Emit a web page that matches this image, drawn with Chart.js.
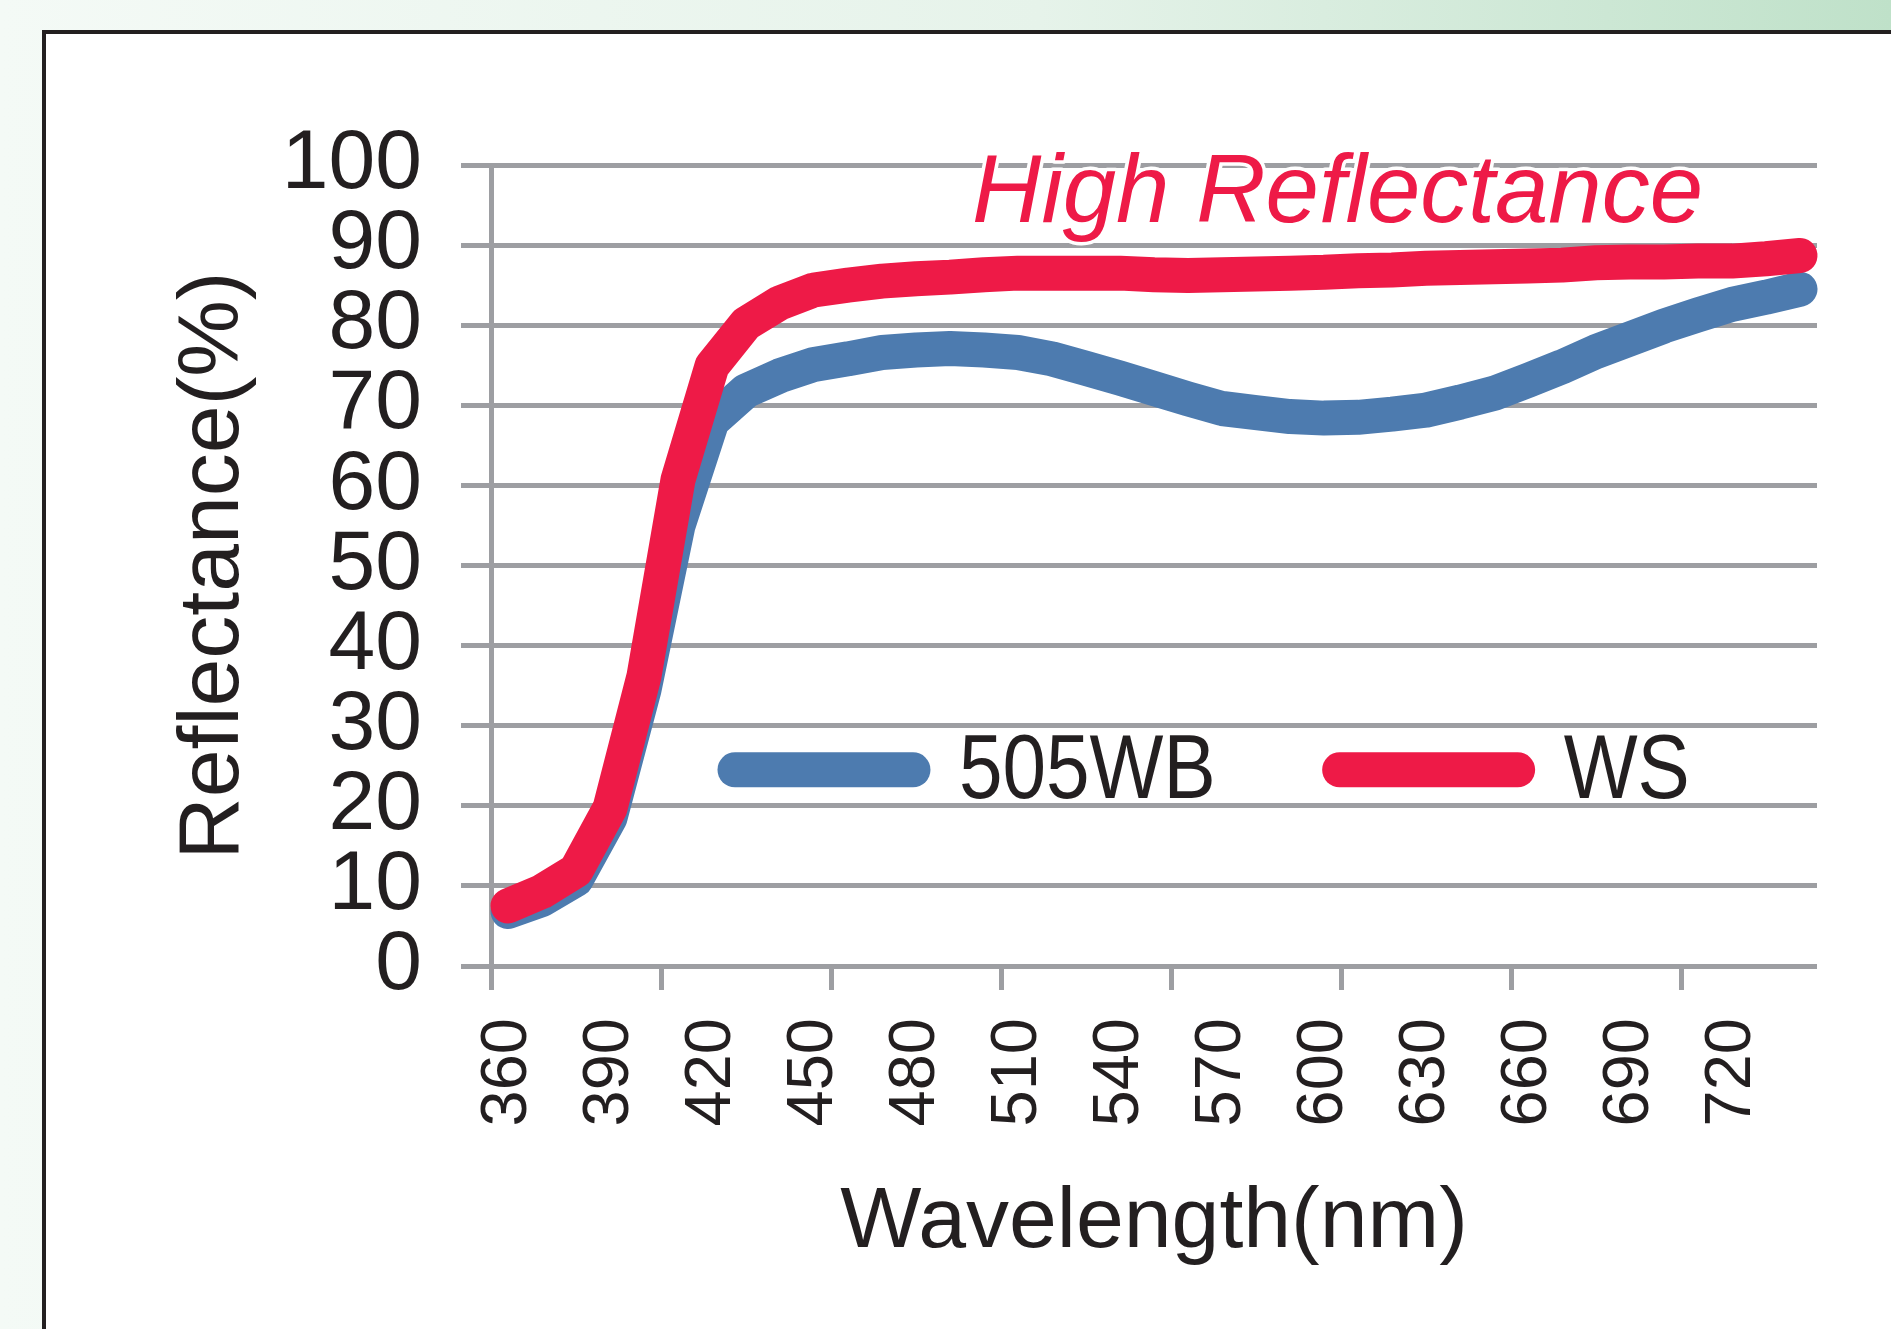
<!DOCTYPE html>
<html>
<head>
<meta charset="utf-8">
<script src="https://cdn.jsdelivr.net/npm/chart.js@4.4.1/dist/chart.umd.min.js"></script>
<style>
  html, body { margin: 0; padding: 0; }
  body {
    width: 1891px; height: 1329px; overflow: hidden; position: relative;
    background: linear-gradient(to right, #f4faf6 0%, #e6f3ea 55%, #bfe1c9 100%);
  }
  #quadro {
    position: absolute; left: 42px; top: 30px; width: 1900px; height: 1400px;
    border: 4px solid #231f20; background: #ffffff;
  }
  #grafico { position: absolute; left: 0; top: 0; }
</style>
</head>
<body>
<div id="quadro"></div>
<canvas id="grafico" width="1891" height="1329"></canvas>
<script>
// valores
var comprimentos = [360, 370, 380, 390, 400, 410, 420, 430, 440, 450, 460, 470, 480,
  490, 500, 510, 520, 530, 540, 550, 560, 570, 580, 590, 600, 610, 620, 630, 640,
  650, 660, 670, 680, 690, 700, 710, 720, 730, 740];

var serie505WB = [6.8, 8.3, 10.8, 18.5, 34.5, 55.0, 68.0, 71.8, 73.7, 75.1, 75.8, 76.6, 76.9,
  77.1, 76.9, 76.6, 75.8, 74.6, 73.4, 72.1, 70.8, 69.6, 69.1, 68.6, 68.4, 68.5, 68.9, 69.4,
  70.4, 71.5, 73.1, 74.8, 76.7, 78.3, 79.9, 81.3, 82.6, 83.5, 84.5];

var serieWS = [7.5, 9.3, 11.9, 19.7, 36.2, 60.7, 74.9, 80.2, 82.8, 84.4, 85.0, 85.5, 85.8,
  86.0, 86.3, 86.5, 86.5, 86.5, 86.5, 86.3, 86.2, 86.3, 86.4, 86.5, 86.6, 86.8, 86.9, 87.1,
  87.2, 87.3, 87.4, 87.5, 87.8, 87.9, 87.9, 88.0, 88.0, 88.3, 88.7];

var nomesSeries = ['505WB', 'WS'];
var coresSeries = ['#4d7baf', '#ee1a47'];
var marcasY = [0, 10, 20, 30, 40, 50, 60, 70, 80, 90, 100];

var corGrade = '#9d9ea2';
var corTexto = '#231f20';
var fonte = "'Liberation Sans', Arial, Helvetica, sans-serif";

// texto "High Reflectance" por cima da grade
var textoDestaque = {
  id: 'textoDestaque',
  afterDraw: function(chart) {
    var ctx = chart.ctx;
    var x = chart.scales.x.getPixelForValue(24.4);
    var y = chart.scales.y.getPixelForValue(92.9);
    ctx.save();
    ctx.font = 'italic 96px ' + fonte;
    ctx.textAlign = 'center';
    ctx.textBaseline = 'alphabetic';
    ctx.lineJoin = 'round';
    ctx.lineWidth = 7;
    ctx.strokeStyle = '#ffffff';
    ctx.strokeText('High Reflectance', x, y);
    ctx.fillStyle = '#ee1a47';
    ctx.fillText('High Reflectance', x, y);
    ctx.restore();
  }
};

// legenda dentro da area do grafico
var legendaInterna = {
  id: 'legendaInterna',
  afterDatasetsDraw: function(chart) {
    var ctx = chart.ctx;
    var area = chart.chartArea;
    var larg = area.right - area.left;
    var y = chart.scales.y.getPixelForValue(24.5);
    var inicios = [0.184, 0.640];
    ctx.save();
    chart.data.datasets.forEach(function(ds, i) {
      var x0 = area.left + inicios[i] * larg;
      ctx.beginPath();
      ctx.lineCap = 'round';
      ctx.lineWidth = 35;
      ctx.strokeStyle = ds.borderColor;
      ctx.moveTo(x0, y);
      ctx.lineTo(x0 + 178, y);
      ctx.stroke();
      // texto um pouco estreito como no original
      ctx.save();
      ctx.translate(x0 + 224, y + 28);
      ctx.scale(0.87, 1);
      ctx.font = '90px ' + fonte;
      ctx.fillStyle = corTexto;
      ctx.textBaseline = 'alphabetic';
      ctx.textAlign = 'left';
      ctx.fillText(ds.label, 0, 0);
      ctx.restore();
    });
    ctx.restore();
  }
};

function montarGrafico() {
  var ctx = document.getElementById('grafico');

  var data = {
    labels: comprimentos,
    datasets: [{
      label: nomesSeries[0],
      data: serie505WB,
      borderColor: coresSeries[0],
      backgroundColor: coresSeries[0],
      borderWidth: 35,
      borderCapStyle: 'round',
      borderJoinStyle: 'round',
      pointRadius: 0,
      tension: 0,
      fill: false,
      clip: false,
      order: 2
    }, {
      label: nomesSeries[1],
      data: serieWS,
      borderColor: coresSeries[1],
      backgroundColor: coresSeries[1],
      borderWidth: 35,
      borderCapStyle: 'round',
      borderJoinStyle: 'round',
      pointRadius: 0,
      tension: 0,
      fill: false,
      clip: false,
      order: 1
    }]
  };

  var config = {
    type: 'line',
    data: data,
    options: {
      responsive: false,
      animation: false,
      devicePixelRatio: 1,
      layout: { padding: { left: 159, top: 165, right: 74, bottom: 50 } },
      plugins: {
        legend: { display: false },
        tooltip: { enabled: false }
      },
      scales: {
        x: {
          type: 'category',
          offset: true,
          afterFit: function(scale) {
            scale.height = 313;
            scale.paddingLeft = 0;
            scale.paddingRight = 0;
          },
          border: { display: false },
          grid: {
            offset: true,
            drawOnChartArea: false,
            drawTicks: true,
            tickLength: 24,
            lineWidth: 5,
            color: function(c) {
              return (c.index !== undefined && c.index % 5 === 0) ? corGrade : 'rgba(0,0,0,0)';
            }
          },
          ticks: {
            autoSkip: false,
            minRotation: 90,
            maxRotation: 90,
            padding: 28,
            color: corTexto,
            font: { family: fonte, size: 65 },
            callback: function(valor, indice) {
              return indice % 3 === 0 ? String(comprimentos[indice]) : '';
            }
          },
          title: {
            display: true,
            text: 'Wavelength(nm)',
            color: corTexto,
            font: { family: fonte, size: 86 },
            padding: { top: 4, bottom: 4 }
          }
        },
        y: {
          min: 0,
          max: 100,
          afterFit: function(scale) {
            scale.width = 332;
            scale.paddingTop = 0;
            scale.paddingBottom = 0;
          },
          afterBuildTicks: function(scale) {
            scale.ticks = marcasY.map(function(v) { return { value: v }; });
          },
          border: { display: true, color: corGrade, width: 5 },
          grid: {
            color: corGrade,
            lineWidth: 5,
            drawTicks: true,
            tickLength: 30
          },
          ticks: {
            autoSkip: false,
            padding: 39,
            color: corTexto,
            font: { family: fonte, size: 84 }
          },
          title: {
            display: true,
            text: 'Reflectance(%)',
            color: corTexto,
            font: { family: fonte, size: 86 },
            padding: { top: 4, bottom: 4 }
          }
        }
      }
    },
    plugins: [legendaInterna, textoDestaque]
  };

  if (Chart.getChart('grafico')) {
    Chart.getChart('grafico').destroy();
  }
  new Chart(ctx, config);
}

montarGrafico();
</script>
</body>
</html>
